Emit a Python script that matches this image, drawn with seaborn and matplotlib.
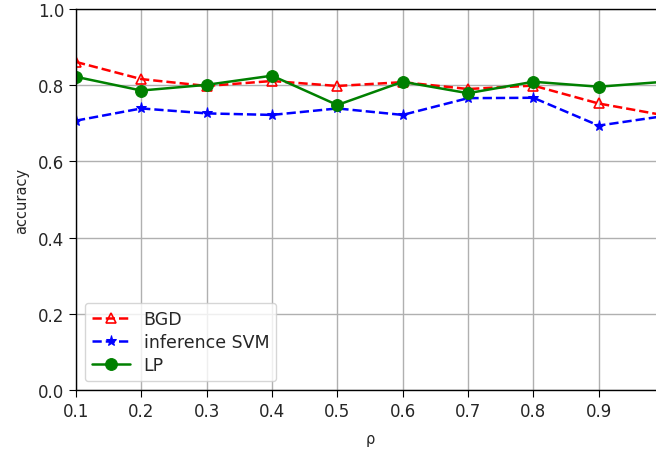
import matplotlib
matplotlib.use("Agg")
import matplotlib.pyplot as plt
import seaborn as sns
import pandas as pd

# values
rho = [0.1, 0.2, 0.3, 0.4, 0.5, 0.6, 0.7, 0.8, 0.9, 1.0]
bgd = [0.861, 0.816, 0.798, 0.811, 0.798, 0.808, 0.790, 0.799, 0.752, 0.721]
svm = [0.707, 0.739, 0.726, 0.722, 0.739, 0.722, 0.766, 0.767, 0.694, 0.719]
lp = [0.822, 0.786, 0.801, 0.825, 0.748, 0.809, 0.779, 0.809, 0.796, 0.809]
xticks = [0.1, 0.2, 0.3, 0.4, 0.5, 0.6, 0.7, 0.8, 0.9]
yticks = [0.0, 0.2, 0.4, 0.6, 0.8, 1.0]

sns.set_style("whitegrid", {"axes.edgecolor": "black", "grid.color": "#b0b0b0"})
plt.rcParams['font.family'] = ['DejaVu Sans']

df = pd.DataFrame({"rho": rho, "BGD": bgd, "inference SVM": svm, "LP": lp})

fig = plt.figure(figsize=(6.56, 4.52), dpi=100)
# the original plot is cut off on the right side, so axes run past the figure edge
ax = fig.add_axes([76 / 656, 61 / 452, 588 / 656, 381 / 452])

sns.lineplot(data=df, x="rho", y="BGD", ax=ax, color="r", linestyle="--", marker="^",
             markersize=7, markerfacecolor="none", markeredgecolor="r", markeredgewidth=1.2,
             linewidth=1.8, label="BGD")
sns.lineplot(data=df, x="rho", y="inference SVM", ax=ax, color="b", linestyle="--", marker="*",
             markersize=8, markeredgecolor="b", linewidth=1.8, label="inference SVM")
sns.lineplot(data=df, x="rho", y="LP", ax=ax, color="g", linestyle="-", marker="o",
             markersize=8.5, markeredgecolor="g", linewidth=1.8, label="LP")

ax.set_xlim(0.1, 1.0)
ax.set_ylim(0.0, 1.0)
ax.set_xticks(xticks)
ax.set_yticks(yticks)
ax.set_xlabel("ρ", fontsize=10.5, labelpad=8)
ax.set_ylabel("accuracy", fontsize=10.5, labelpad=6)
ax.tick_params(axis="both", labelsize=12, length=5, color="black", left=True, bottom=True)
ax.grid(True, linewidth=1.0)
for s in ax.spines.values():
    s.set_linewidth(1.0)

ax.legend(loc="lower left", fontsize=12.5, frameon=True, framealpha=0.8,
          handlelength=2.2, labelspacing=0.3)

fig.savefig("out.png", dpi=100)
